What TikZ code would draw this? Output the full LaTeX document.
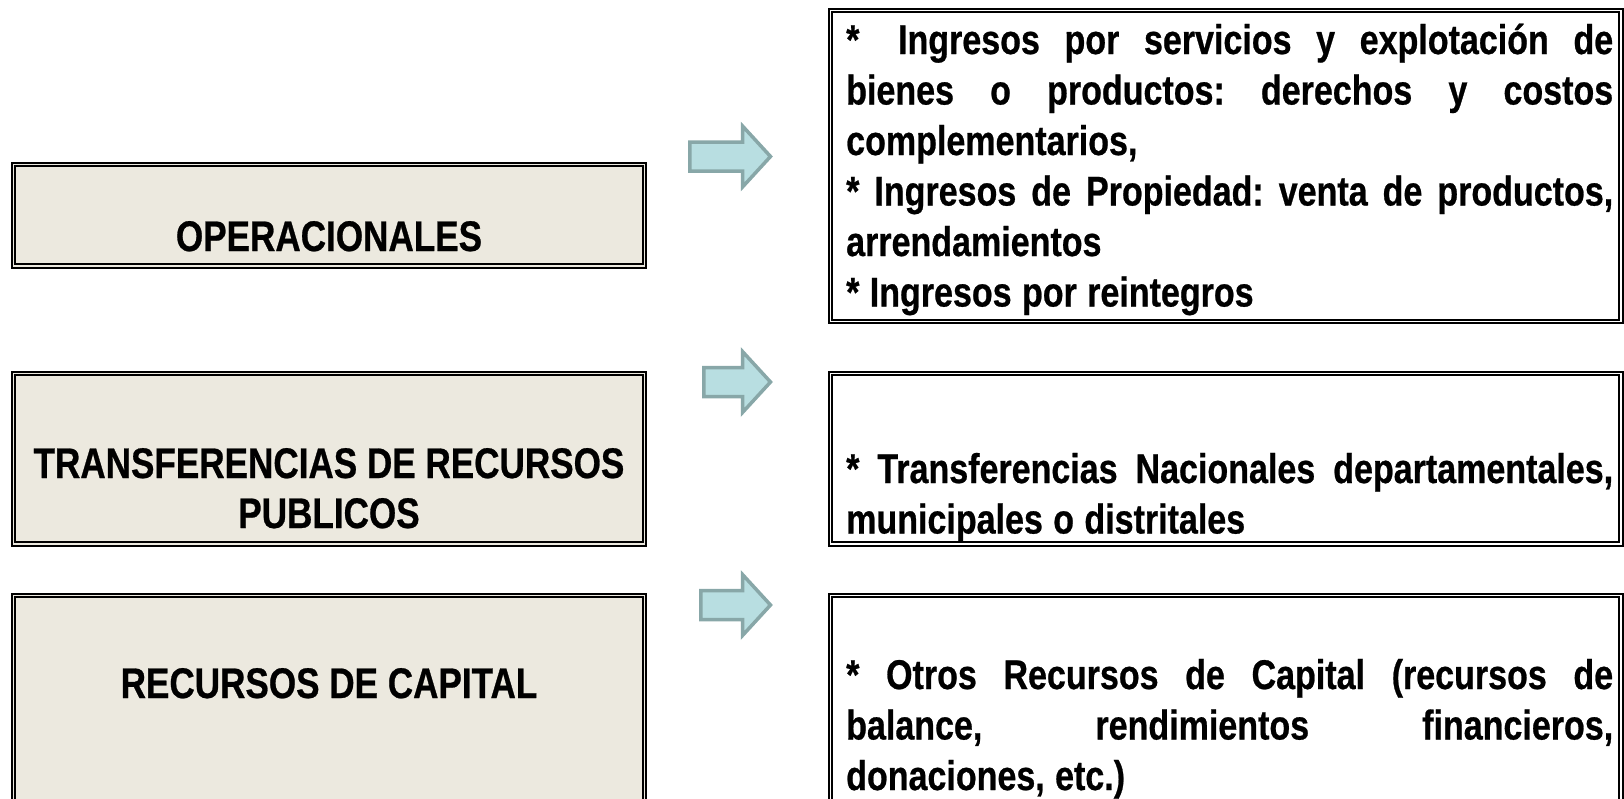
\documentclass[tikz,border=0pt]{standalone}
\usepackage{fontspec}
\setmainfont{Liberation Sans}[FakeStretch=0.82, BoldFeatures={FakeBold=0.6}]
\definecolor{boxfill}{HTML}{ECE9DF}
\definecolor{arrowfill}{HTML}{B8DEE1}
\definecolor{arrowline}{HTML}{88A7A8}
\newcommand{\rsetup}{\frenchspacing\spaceskip=0.25em plus 3em minus 0.1em\relax
  \hyphenpenalty=10000\relax\exhyphenpenalty=10000\relax\tolerance=10000\relax}
\tikzset{
  framebox/.style={draw=black, line width=1.8pt, double distance=1.5pt,
    inner sep=0pt, outer sep=0pt, anchor=north west, rectangle},
  leftbox/.style={framebox, double=boxfill, fill=boxfill, minimum width=630.9pt},
  rightbox/.style={framebox, double=white, fill=white, minimum width=790.4pt},
  lefttext/.style={anchor=base, inner sep=0pt, font=\fontsize{42.8}{50}\selectfont\bfseries},
  righttext/.style={anchor=base west, inner sep=0pt, text width=767pt, align=justify,
    font=\fontsize{41.5}{50.5}\selectfont\bfseries},
  blockarrow/.style={fill=arrowfill, draw=arrowline, line width=3.5pt, line join=miter}
}
\newcommand{\blockarr}[4]{% x0, xb, xt, yc
  \draw[blockarrow] (#1,{#4-14.5}) -- (#2,{#4-14.5}) -- (#2,{#4-30.5}) -- (#3,#4)
    -- (#2,{#4+30.5}) -- (#2,{#4+14.5}) -- (#1,{#4+14.5}) -- cycle;}
\begin{document}
\begin{tikzpicture}[x=1pt,y=-1pt]
\useasboundingbox (0,0) rectangle (1624,798);
\clip (0,0) rectangle (1624,798);
% left boxes
\node[leftbox, minimum height=101.4pt] (L1) at (13.55,164.55) {};
\node[leftbox, minimum height=170.4pt] (L2) at (13.55,373.55) {};
\node[leftbox, minimum height=300pt] (L3) at (13.55,595.55) {};
% right boxes
\node[rightbox, minimum height=310.9pt] (R1) at (830.55,10.55) {};
\node[rightbox, minimum height=170.4pt] (R2) at (830.55,373.55) {};
\node[rightbox, minimum height=300pt] (R3) at (830.55,595.55) {};
% left texts
\node[lefttext] (t1) at (329,251) {OPERACIONALES};
\node[lefttext] (t2a) at (329,478) {TRANSFERENCIAS DE RECURSOS};
\node[lefttext] (t2b) at (329,528) {PUBLICOS};
\node[lefttext] (t3) at (329,698) {RECURSOS DE CAPITAL};
% right texts
\node[righttext] (r1) at (846,54) {\rsetup *\hspace{14pt} Ingresos por servicios y explotación de\linebreak bienes o productos: derechos y costos\linebreak complementarios,\par
* Ingresos de Propiedad: venta de productos,\linebreak arrendamientos\par
* Ingresos por reintegros};
\node[righttext] (r2) at (846,483) {\rsetup * Transferencias Nacionales departamentales,\linebreak municipales o distritales};
\node[righttext] (r3) at (846,689) {\rsetup * Otros Recursos de Capital (recursos de\linebreak balance, rendimientos financieros,\linebreak donaciones, etc.)};
% arrows
\blockarr{689.75}{742.5}{770.5}{156.5}
\blockarr{703.75}{742.5}{770.5}{382}
\blockarr{700.75}{742.5}{770.5}{605}
\end{tikzpicture}
\end{document}
